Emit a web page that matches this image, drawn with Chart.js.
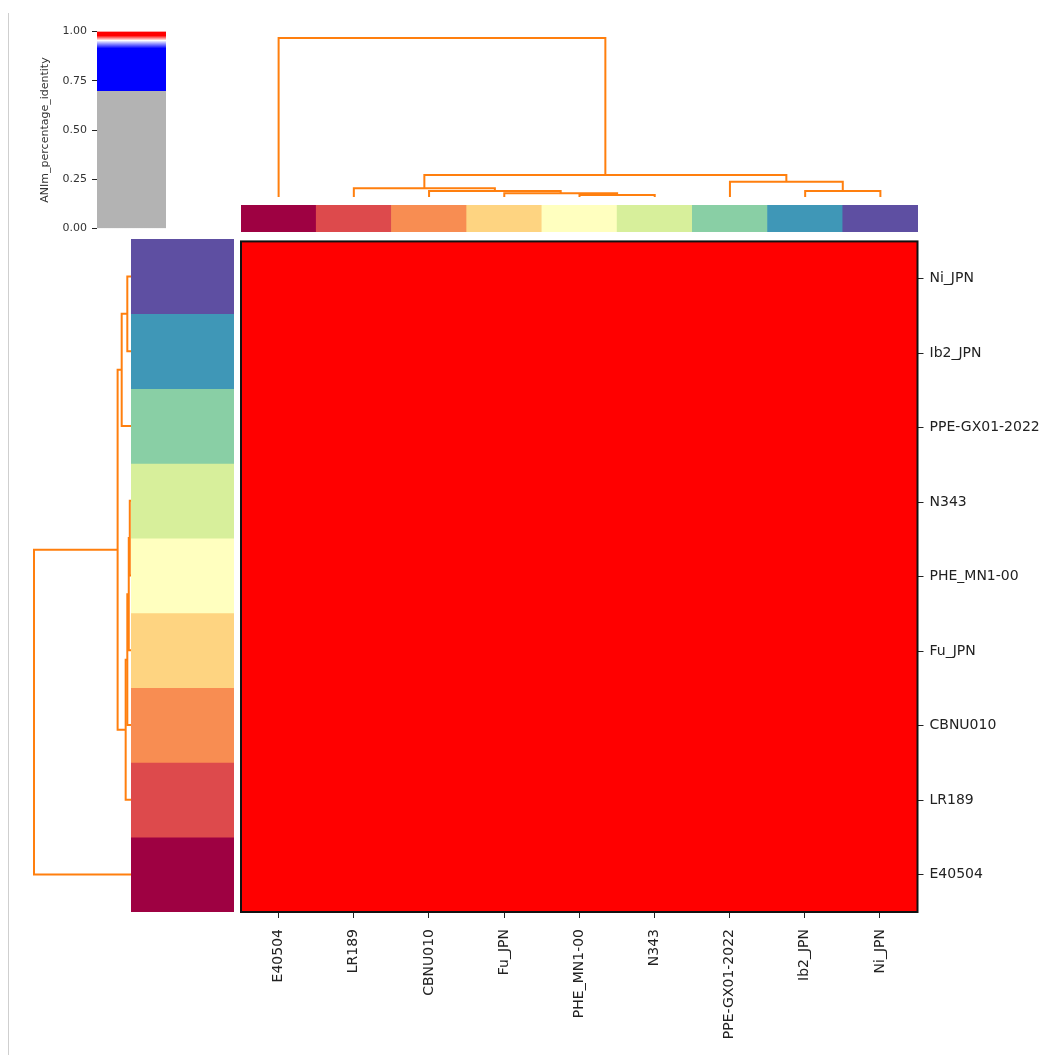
<!DOCTYPE html>
<html lang="en">
<head>
<meta charset="UTF-8">
<title>ANIm percentage identity</title>
<script src="https://cdn.jsdelivr.net/npm/chart.js@4.4.1/dist/chart.umd.min.js"></script>
<style>
    body { margin: 0; background: #fff; }
    #page { position: relative; width: 1040px; height: 1055px; overflow: hidden; }
    #page canvas { position: absolute; }
    #edge { position: absolute; left: 8px; top: 13px; width: 1px; height: 1042px; background: #cfcfcf; }
</style>
</head>
<body>
<div id="page">
    <div id="edge"></div>
    <canvas id="cbar" width="130" height="220" style="left:36px;top:20px"></canvas>
    <canvas id="topdendro" width="677" height="181" style="left:241px;top:20px"></canvas>
    <canvas id="topcolors" width="677" height="27" style="left:241px;top:205px"></canvas>
    <canvas id="leftdendro" width="115" height="673" style="left:20px;top:239px"></canvas>
    <canvas id="leftcolors" width="103" height="673" style="left:131px;top:239px"></canvas>
    <canvas id="heat" width="804" height="828" style="left:236px;top:227px"></canvas>
</div>
<script>
    // genomes in dendrogram leaf order (left->right, bottom->top)
    var leaves = ['E40504', 'LR189', 'CBNU010', 'Fu_JPN', 'PHE_MN1-00', 'N343', 'PPE-GX01-2022', 'Ib2_JPN', 'Ni_JPN'];
    var leafColors = ['#9e0142', '#dd4a4c', '#f88d52', '#fed481', '#ffffbf', '#d7ef9b', '#89cfa5', '#3f97b7', '#5e4fa2'];

    // linkage: children (leaf index, or 9+k for merge k) and merge height
    var linkLeft = [4, 3, 2, 1, 7, 6, 12, 0];
    var linkRight = [5, 9, 10, 11, 8, 13, 14, 15];
    var linkHeight = [0.0126, 0.023, 0.038, 0.055, 0.038, 0.096, 0.138, 1.0];

    // ANIm percentage identity, rows/cols in leaf order
    var aniValues = [
        [1.000, 0.986, 0.986, 0.986, 0.986, 0.986, 0.985, 0.985, 0.985],
        [0.986, 1.000, 0.998, 0.998, 0.998, 0.998, 0.997, 0.997, 0.997],
        [0.986, 0.998, 1.000, 0.999, 0.999, 0.999, 0.997, 0.997, 0.997],
        [0.986, 0.998, 0.999, 1.000, 0.999, 0.999, 0.997, 0.997, 0.997],
        [0.986, 0.998, 0.999, 0.999, 1.000, 0.999, 0.997, 0.997, 0.997],
        [0.986, 0.998, 0.999, 0.999, 0.999, 1.000, 0.997, 0.997, 0.997],
        [0.985, 0.997, 0.997, 0.997, 0.997, 0.997, 1.000, 0.998, 0.998],
        [0.985, 0.997, 0.997, 0.997, 0.997, 0.997, 0.998, 1.000, 0.999],
        [0.985, 0.997, 0.997, 0.997, 0.997, 0.997, 0.998, 0.999, 1.000]
    ];

    // colour map (gray below 0.7, blue, white, red)
    var cmapStops = [0, 0.70, 0.70, 0.915, 0.955, 0.98, 1.0];
    var cmapColors = ['#b3b3b3', '#b3b3b3', '#0000ff', '#0000ff', '#ffffff', '#ff0000', '#ff0000'];
    var cbarTicks = [0, 0.25, 0.5, 0.75, 1.0];

    var lineColor = '#ff7f0e';
    var textColor = '#222';
    Chart.defaults.font.family = 'DejaVu Sans';

    function hex(c) {
        return [1, 3, 5].map(function (i) { return parseInt(c.substr(i, 2), 16); });
    }
    function colorFor(v) {
        for (var i = 1; i < cmapStops.length; i++) {
            if (v <= cmapStops[i]) {
                var s0 = cmapStops[i - 1], s1 = cmapStops[i];
                var t = s1 > s0 ? (v - s0) / (s1 - s0) : 1;
                var a = hex(cmapColors[i - 1]), b = hex(cmapColors[i]);
                return 'rgb(' + a.map(function (x, j) { return Math.round(x + (b[j] - x) * t); }).join(',') + ')';
            }
        }
        return cmapColors[cmapColors.length - 1];
    }

    // U-shaped links like scipy's dendrogram
    function links() {
        var pos = leaves.map(function (_, i) { return i; });
        var hgt = leaves.map(function () { return 0; });
        var segs = [];
        linkLeft.forEach(function (a, k) {
            var b = linkRight[k], h = linkHeight[k];
            segs.push([[pos[a], hgt[a]], [pos[a], h], [pos[b], h], [pos[b], hgt[b]]]);
            pos.push((pos[a] + pos[b]) / 2);
            hgt.push(h);
        });
        return segs;
    }

    var noPlugins = { legend: { display: false }, tooltip: { enabled: false } };

    // colour scale
    new Chart(document.getElementById('cbar'), {
        type: 'bar',
        data: {
            labels: [''],
            datasets: [{
                data: [cbarTicks[cbarTicks.length - 1]],
                borderWidth: 0,
                backgroundColor: function (ctx) {
                    var a = ctx.chart.chartArea;
                    if (!a) return cmapColors[0];
                    var g = ctx.chart.ctx.createLinearGradient(0, a.bottom, 0, a.top);
                    cmapStops.forEach(function (s, i) { g.addColorStop(s, cmapColors[i]); });
                    return g;
                }
            }]
        },
        options: {
            responsive: false,
            animation: false,
            layout: { padding: { top: 10, bottom: 8.5 } },
            datasets: { bar: { categoryPercentage: 1, barPercentage: 1 } },
            scales: {
                x: { display: false },
                y: {
                    min: 0, max: 1,
                    afterBuildTicks: function (s) { s.ticks = cbarTicks.map(function (v) { return { value: v }; }); },
                    ticks: { callback: function (v) { return v.toFixed(2); }, padding: 5, color: '#333', font: { size: 11 } },
                    grid: { drawOnChartArea: false, tickLength: 5, color: textColor },
                    border: { display: false },
                    title: { display: true, text: 'ANIm_percentage_identity', color: '#333', font: { size: 11 }, padding: { top: 3, bottom: 0 } },
                    afterFit: function (s) { s.width = 61; }
                }
            },
            plugins: noPlugins
        }
    });

    var segs = links();

    // column dendrogram
    new Chart(document.getElementById('topdendro'), {
        type: 'scatter',
        data: {
            datasets: segs.map(function (s) {
                return {
                    data: s.map(function (p) { return { x: p[0], y: p[1] }; }),
                    showLine: true, borderColor: lineColor, borderWidth: 2, pointRadius: 0, clip: false
                };
            })
        },
        options: {
            responsive: false,
            animation: false,
            layout: { padding: { top: 18, bottom: 4 } },
            scales: {
                x: { display: false, min: -0.5, max: leaves.length - 0.5 },
                y: { display: false, min: 0, max: 1 }
            },
            plugins: noPlugins
        }
    });

    // row dendrogram
    new Chart(document.getElementById('leftdendro'), {
        type: 'scatter',
        data: {
            datasets: segs.map(function (s) {
                return {
                    data: s.map(function (p) { return { x: p[1], y: p[0] }; }),
                    showLine: true, borderColor: lineColor, borderWidth: 2, pointRadius: 0, clip: false
                };
            })
        },
        options: {
            responsive: false,
            animation: false,
            layout: { padding: { left: 14, right: 4 } },
            scales: {
                x: { display: false, min: 0, max: 1, reverse: true },
                y: { display: false, min: -0.5, max: leaves.length - 0.5 }
            },
            plugins: noPlugins
        }
    });

    // label colour strips
    new Chart(document.getElementById('topcolors'), {
        type: 'bar',
        data: { labels: leaves, datasets: [{ data: leaves.map(function () { return 1; }), backgroundColor: leafColors, borderWidth: 0 }] },
        options: {
            responsive: false,
            animation: false,
            datasets: { bar: { categoryPercentage: 1, barPercentage: 1 } },
            scales: { x: { display: false }, y: { display: false, min: 0, max: 1 } },
            plugins: noPlugins
        }
    });

    new Chart(document.getElementById('leftcolors'), {
        type: 'bar',
        data: { labels: leaves, datasets: [{ data: leaves.map(function () { return 1; }), backgroundColor: leafColors, borderWidth: 0 }] },
        options: {
            indexAxis: 'y',
            responsive: false,
            animation: false,
            datasets: { bar: { categoryPercentage: 1, barPercentage: 1 } },
            scales: { y: { display: false, reverse: true }, x: { display: false, min: 0, max: 1 } },
            plugins: noPlugins
        }
    });

    // heatmap
    var frame = {
        id: 'frame',
        afterDraw: function (chart) {
            var c = chart.ctx, a = chart.chartArea;
            c.save();
            c.strokeStyle = '#111';
            c.lineWidth = 2;
            c.strokeRect(a.left, a.top, a.right - a.left, a.bottom - a.top);
            c.restore();
        }
    };

    new Chart(document.getElementById('heat'), {
        type: 'bar',
        data: {
            labels: leaves,
            datasets: leaves.map(function (name, r) {
                return {
                    label: name,
                    data: leaves.map(function () { return 1; }),
                    backgroundColor: aniValues[r].map(colorFor),
                    borderWidth: 0,
                    inflateAmount: 1
                };
            })
        },
        options: {
            responsive: false,
            animation: false,
            layout: { padding: { left: 5, top: 6 } },
            datasets: { bar: { categoryPercentage: 1, barPercentage: 1 } },
            scales: {
                x: {
                    stacked: true,
                    grid: { offset: false, drawOnChartArea: false, tickLength: 6, color: textColor },
                    border: { display: false },
                    ticks: { minRotation: 90, maxRotation: 90, autoSkip: false, padding: 11, color: textColor, font: { size: 14 } },
                    afterFit: function (s) { s.height = 143; }
                },
                y: {
                    stacked: true,
                    position: 'right',
                    min: 0, max: leaves.length,
                    afterBuildTicks: function (s) { s.ticks = leaves.map(function (_, i) { return { value: i + 0.5 }; }); },
                    ticks: { callback: function (v) { return leaves[Math.floor(v)]; }, padding: 6, color: textColor, font: { size: 14 } },
                    grid: { drawOnChartArea: false, tickLength: 6, color: textColor },
                    border: { display: false },
                    afterFit: function (s) { s.width = 122.5; }
                }
            },
            plugins: noPlugins
        },
        plugins: [frame]
    });
</script>
</body>
</html>
